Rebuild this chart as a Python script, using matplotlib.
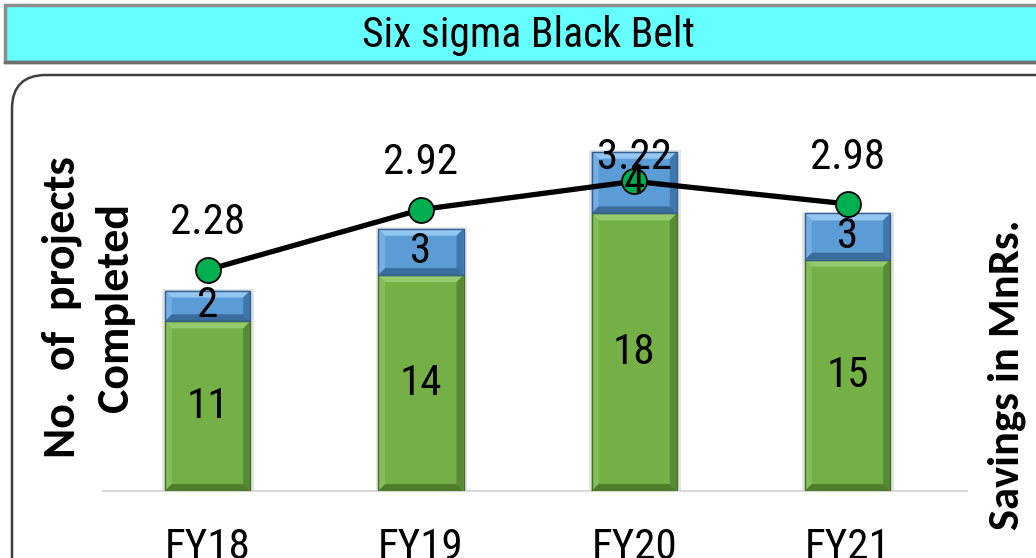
import matplotlib
matplotlib.use("Agg")
import matplotlib.pyplot as plt
from matplotlib import font_manager
from matplotlib.patches import Rectangle, Polygon, FancyBboxPatch

# ---- data ----
years = ["FY18", "FY19", "FY20", "FY21"]
projects_base = [11, 14, 18, 15]      # lower (green) segment
projects_extra = [2, 3, 4, 3]         # upper (blue) segment
savings = [2.28, 2.92, 3.22, 2.98]    # Mn Rs.

title_text = "Six sigma Black Belt"
left_label = "No.  of  projects\nCompleted"
right_label = "Savings in MnRs."


def pick_font(candidates):
    for name in candidates:
        try:
            font_manager.findfont(font_manager.FontProperties(family=name),
                                  fallback_to_default=False)
            return name
        except Exception:
            continue
    return "DejaVu Sans"


narrow = pick_font(["Liberation Sans Narrow", "Arial Narrow", "DejaVu Sans Condensed",
                    "Roboto Condensed", "Liberation Sans"])
boldsans = pick_font(["Carlito", "Lato", "Open Sans", "DejaVu Sans"])

W, H, DPI = 1036, 558, 100
fig = plt.figure(figsize=(W / DPI, H / DPI), dpi=DPI)
fig.patch.set_facecolor("white")

# ---- background frame in pixel coordinates ----
bg = fig.add_axes([0, 0, 1, 1], zorder=0)
bg.set_xlim(0, W)
bg.set_ylim(H, 0)
bg.axis("off")

bg.add_patch(Rectangle((5, 5), 1040, 57, facecolor="#66FFFF",
                       edgecolor="#8C8C8C", linewidth=2.5))
bg.plot([5, 1040], [62, 62], color="#6E6E6E", lw=2.5)
bg.text(528, 36, title_text, ha="center", va="center", fontsize=30,
        family=narrow, color="black")

bg.add_patch(FancyBboxPatch((14, 77), 1060, 520,
                            boxstyle="round,pad=0,rounding_size=34",
                            facecolor="white", edgecolor="#BEBEBE", linewidth=3.5))
bg.add_patch(FancyBboxPatch((12, 75), 1060, 520,
                            boxstyle="round,pad=0,rounding_size=34",
                            facecolor="white", edgecolor="#404040", linewidth=1.8))

# ---- main plot axes ----
ax_left, ax_right, ax_top, ax_bottom = 103, 967, 90, 491
ax = fig.add_axes([ax_left / W, (H - ax_bottom) / H,
                   (ax_right - ax_left) / W, (ax_bottom - ax_top) / H], zorder=2)
ax.patch.set_alpha(0)
xlim = (-0.49, 3.56)
ylim = (0, 26)
ax.set_xlim(*xlim)
ax.set_ylim(*ylim)
for s in ("top", "left", "right"):
    ax.spines[s].set_visible(False)
ax.spines["bottom"].set_color("#D9D9D9")
ax.spines["bottom"].set_linewidth(1.5)
ax.set_yticks([])
ax.set_xticks(range(len(years)))
ax.set_xticklabels(years, fontsize=31, family=narrow)
ax.tick_params(axis="x", length=0, pad=26)

px_x = (ax_right - ax_left) / (xlim[1] - xlim[0])
px_y = (ax_bottom - ax_top) / (ylim[1] - ylim[0])

bar_w = 0.4
bev = 7.0
bdx, bdy = bev / px_x, bev / px_y

green = dict(body="#74B046", top="#95CB6C", left="#84BE5A", right="#578B33",
             bottom="#4E7E2C", edge="#456F27")
blue = dict(body="#5C9CD6", top="#93C6F0", left="#74AEE2", right="#3E76AE",
            bottom="#3A6C9E", edge="#355F8C")


def bevel_bar(x, y0, h, pal):
    x0, x1 = x - bar_w / 2, x + bar_w / 2
    y1 = y0 + h
    ax.add_patch(Rectangle((x0 - 0.012, y0), bar_w + 0.03, h + 0.12,
                           facecolor="#E4E4E4", edgecolor="none", zorder=1))
    ax.add_patch(Rectangle((x0, y0), bar_w, h, facecolor=pal["body"],
                           edgecolor="none", zorder=2))
    faces = [
        ([(x0, y1), (x1, y1), (x1 - bdx, y1 - bdy), (x0 + bdx, y1 - bdy)], pal["top"]),
        ([(x0, y0), (x0, y1), (x0 + bdx, y1 - bdy), (x0 + bdx, y0 + bdy)], pal["left"]),
        ([(x1, y0), (x1, y1), (x1 - bdx, y1 - bdy), (x1 - bdx, y0 + bdy)], pal["right"]),
        ([(x0, y0), (x1, y0), (x1 - bdx, y0 + bdy), (x0 + bdx, y0 + bdy)], pal["bottom"]),
    ]
    for pts, col in faces:
        ax.add_patch(Polygon(pts, closed=True, facecolor=col, edgecolor="none", zorder=3))
    ax.add_patch(Rectangle((x0, y0), bar_w, h, facecolor="none",
                           edgecolor=pal["edge"], linewidth=1.0, zorder=4))


for i, (g, b) in enumerate(zip(projects_base, projects_extra)):
    bevel_bar(i, 0, g, green)
    bevel_bar(i, g, b, blue)

# ---- savings line on secondary axis ----
ax2 = ax.twinx()
ax2.set_zorder(3)
ax2.patch.set_alpha(0)
ax2.set_ylim(-0.069, 4.19)
ax2.axis("off")
xs = list(range(len(years)))
ax2.plot(xs, savings, color="black", lw=3.8, zorder=5,
         marker="o", markersize=18, markerfacecolor="#00B050",
         markeredgecolor="black", markeredgewidth=1.3)

label_top = 3.47
for x, v in zip(xs, savings):
    ax2.text(x, min(v + 0.5, label_top), f"{v:.2f}", ha="center", va="center",
             fontsize=31, family=narrow, zorder=7)

# segment values drawn above the line
for i, (g, b) in enumerate(zip(projects_base, projects_extra)):
    ax2.text(i, g / 2, str(g), transform=ax.transData, ha="center", va="center",
             fontsize=31, family=narrow, zorder=7)
    ax2.text(i, g + b / 2, str(b), transform=ax.transData, ha="center", va="center",
             fontsize=31, family=narrow, zorder=7)

# ---- axis titles ----
fig.text(88 / W, 1 - 307 / H, left_label, rotation=90, ha="center", va="center",
         fontsize=33, fontweight="bold", family=boldsans, linespacing=1.4,
         multialignment="center")
fig.text(1007 / W, 1 - 375 / H, right_label, rotation=90, ha="center", va="center",
         fontsize=32, fontweight="bold", family=boldsans)

fig.savefig("out.png", dpi=DPI)
